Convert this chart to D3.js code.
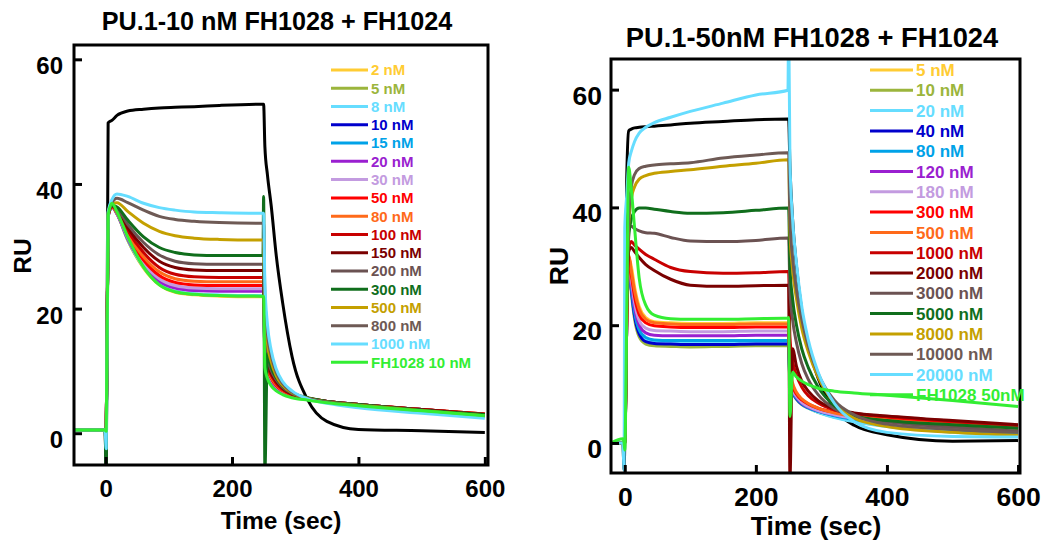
<!DOCTYPE html>
<html>
<head>
<meta charset="utf-8">
<script src="https://cdn.jsdelivr.net/npm/d3@7/dist/d3.min.js"></script>
<style>
html, body { margin: 0; padding: 0; background: #fff; }
svg text { font-family: "Liberation Sans", Arial, sans-serif; font-weight: bold; }
</style>
</head>
<body>
<div id="chart"></div>
<script>
// ---- data ----
var colors = ["#FFCC33", "#9BB53C", "#66DDFF", "#0000CC", "#00A2E8", "#9A1FD0",
              "#C39BE0", "#FF0000", "#FF6A1A", "#C80000", "#7A0000", "#6B5252",
              "#106E1C", "#C4A000", "#6E5A55", "#66DDFF", "#33EE33"];
var blackColor = "#000000";

// left panel: PU.1-10 nM
var leftTitle = "PU.1-10 nM FH1028 + FH1024";
var leftLabels = ["2 nM", "5 nM", "8 nM", "10 nM", "15 nM", "20 nM", "30 nM", "50 nM",
                  "80 nM", "100 nM", "150 nM", "200 nM", "300 nM", "500 nM", "800 nM",
                  "1000 nM", "FH1028 10 nM"];
var leftTime = [-50, -1, 1, 4, 10, 18, 35, 60, 85, 110, 140, 180, 249,
                250, 252, 256, 262, 270, 280, 295, 320, 350, 400, 500, 600];
var left2    = [0.5, 0.5, 0.3, 34.8, 36.4, 35.2, 31.0, 26.5, 23.8, 22.6, 22.2, 22.0, 21.9, 21.9, 12.0, 9.6, 8.2, 7.2, 6.5, 5.9, 5.4, 5.0, 4.5, 3.7, 2.9];
var left5    = [0.5, 0.5, 0.3, 34.8, 36.4, 35.2, 31.0, 26.6, 23.9, 22.7, 22.3, 22.1, 22.0, 22.0, 12.1, 9.7, 8.3, 7.3, 6.6, 6.0, 5.5, 5.1, 4.6, 3.8, 3.0];
var left8    = [0.5, 0.5, -2.5, 34.8, 36.4, 35.3, 31.1, 26.7, 24.0, 22.8, 22.4, 22.2, 22.1, 22.1, 12.2, 9.8, 8.3, 7.3, 6.6, 6.0, 5.5, 5.0, 4.5, 3.6, 2.8];
var left10   = [0.5, 0.5, 0.3, 34.8, 36.3, 35.3, 31.3, 27.2, 24.6, 23.5, 23.1, 23.0, 23.0, 23.0, 12.6, 10.0, 8.5, 7.4, 6.7, 6.0, 5.5, 5.1, 4.6, 3.8, 3.0];
var left15   = [0.5, 0.5, 0.3, 34.8, 36.3, 35.3, 31.3, 27.1, 24.5, 23.4, 23.0, 22.9, 22.9, 22.9, 12.5, 9.9, 8.4, 7.4, 6.7, 6.0, 5.5, 5.1, 4.6, 3.8, 3.0];
var left20   = [0.5, 0.5, 0.3, 34.8, 36.3, 35.2, 31.2, 27.0, 24.4, 23.3, 22.9, 22.8, 22.8, 22.8, 12.5, 9.9, 8.4, 7.4, 6.6, 6.0, 5.5, 5.1, 4.6, 3.8, 3.0];
var left30   = [0.5, 0.5, 0.3, 34.8, 36.3, 35.3, 31.4, 27.3, 24.8, 23.7, 23.3, 23.2, 23.2, 23.2, 12.8, 10.1, 8.6, 7.5, 6.7, 6.1, 5.5, 5.1, 4.6, 3.8, 3.0];
var left50   = [0.5, 0.5, 0.3, 34.9, 36.3, 35.4, 31.7, 27.8, 25.3, 24.2, 23.8, 23.7, 23.7, 23.7, 13.2, 10.4, 8.8, 7.6, 6.8, 6.1, 5.5, 5.1, 4.6, 3.8, 3.1];
var left80   = [0.5, 0.5, 0.3, 34.9, 36.3, 35.5, 32.0, 28.3, 25.9, 24.8, 24.4, 24.3, 24.3, 24.3, 13.6, 10.7, 9.0, 7.8, 6.9, 6.2, 5.6, 5.1, 4.6, 3.8, 3.1];
var left100  = [0.5, 0.5, 0.3, 35.0, 36.4, 35.7, 32.5, 29.0, 26.6, 25.5, 25.1, 25.0, 25.0, 25.0, 14.2, 11.0, 9.3, 8.0, 7.0, 6.2, 5.6, 5.1, 4.6, 3.8, 3.1];
var left150  = [0.5, 0.5, 0.3, 35.0, 36.5, 35.9, 33.0, 29.8, 27.6, 26.6, 26.2, 26.1, 26.1, 26.1, 15.0, 11.6, 9.7, 8.3, 7.2, 6.3, 5.6, 5.1, 4.6, 3.8, 3.0];
var left200  = [0.5, 0.5, 0.3, 35.1, 36.6, 36.1, 33.5, 30.6, 28.6, 27.6, 27.2, 27.1, 27.1, 27.1, 15.8, 12.2, 10.1, 8.6, 7.4, 6.4, 5.6, 5.1, 4.6, 3.7, 3.0];
var left300  = [0.5, 0.5, -6.0, 35.2, 36.6, 36.3, 34.2, 31.5, 29.8, 29.0, 28.6, 28.5, 28.5, 38.0, -6.0, 12.8, 10.6, 8.9, 7.6, 6.5, 5.7, 5.1, 4.6, 3.7, 3.0];
var left500  = [0.5, 0.5, 0.3, 35.3, 36.8, 37.0, 35.6, 33.7, 32.4, 31.7, 31.3, 31.1, 31.0, 31.0, 20.0, 14.5, 11.5, 9.2, 7.7, 6.5, 5.6, 5.0, 4.5, 3.6, 2.8];
var left800  = [0.5, 0.5, 0.3, 35.4, 37.0, 37.7, 37.0, 35.8, 34.8, 34.3, 34.0, 33.8, 33.7, 33.7, 22.0, 16.0, 12.5, 9.8, 8.0, 6.6, 5.6, 5.0, 4.4, 3.5, 2.7];
var left1000 = [0.5, 0.5, -2.5, 35.5, 37.5, 38.4, 38.0, 36.9, 36.2, 35.8, 35.5, 35.4, 35.3, 35.3, 24.0, 17.5, 13.3, 10.3, 8.3, 6.8, 5.5, 4.8, 4.1, 3.2, 2.4];
var leftFH   = [0.5, 0.5, 0.3, 35.0, 36.9, 35.5, 31.5, 26.7, 23.8, 22.7, 22.3, 22.1, 22.0, 22.0, 10.5, 8.8, 7.6, 6.8, 6.2, 5.7, 5.3, 4.9, 4.4, 3.6, 2.8];
var leftBlack = [0.5, 0.5, -6.0, 49.8, 50.2, 51.0, 51.7, 52.0, 52.2, 52.3, 52.4, 52.6, 52.8, 52.8, 46.0, 41.5, 36.5, 28.5, 21.0, 12.3, 5.3, 1.9, 0.6, 0.4, 0.1];
var leftCurves = [left2, left5, left8, left10, left15, left20, left30, left50, left80,
                  left100, left150, left200, left300, left500, left800, left1000, leftFH];

// right panel: PU.1-50nM
var rightTitle = "PU.1-50nM FH1028 + FH1024";
var rightLabels = ["5 nM", "10 nM", "20 nM", "40 nM", "80 nM", "120 nM", "180 nM", "300 nM",
                   "500 nM", "1000 nM", "2000 nM", "3000 nM", "5000 nM", "8000 nM",
                   "10000 nM", "20000 nM", "FH1028 50nM"];
var rightTime = [-21, -3, -1, 0, 3, 6, 10, 15, 22, 32, 45, 70, 100, 150, 200, 249,
                 250, 252, 256, 262, 270, 280, 295, 320, 350, 400, 500, 600];
var right5     = [0, 0, 0, 0, 20, 31.5, 30.0, 26.5, 23.2, 21.3, 20.6, 20.4, 20.3, 20.3, 20.4, 20.4, 20.4, 10.8, 9.2, 8.0, 7.0, 6.2, 5.4, 4.5, 3.7, 2.9, 1.9, 1.3];
var right10    = [0, 0, 0, 0, 20, 30.5, 25.5, 21.0, 18.0, 16.8, 16.5, 16.4, 16.3, 16.4, 16.5, 16.5, 16.5, 9.8, 8.5, 7.4, 6.5, 5.9, 5.2, 4.4, 3.7, 3.0, 2.1, 1.5];
var right20    = [0, 0, 0, 0, 20, 30.5, 26.0, 21.7, 18.8, 17.6, 17.3, 17.2, 17.1, 17.1, 17.2, 17.2, 17.2, 10.0, 8.6, 7.5, 6.6, 5.9, 5.2, 4.3, 3.6, 2.8, 1.8, 1.2];
var right40    = [0, 0, 0, 0, 20, 30.5, 26.0, 21.5, 18.5, 17.2, 16.9, 16.8, 16.7, 16.7, 16.8, 16.8, 16.8, 10.0, 8.6, 7.5, 6.6, 6.0, 5.4, 4.7, 4.1, 3.4, 2.5, 1.8];
var right80    = [0, 0, 0, 0, 20, 30.8, 26.5, 22.2, 19.2, 17.9, 17.5, 17.4, 17.4, 17.4, 17.4, 17.4, 17.4, 10.2, 8.7, 7.6, 6.7, 6.0, 5.4, 4.6, 4.0, 3.3, 2.3, 1.6];
var right120   = [0, 0, 0, 0, 20, 31.0, 27.2, 23.0, 20.0, 18.7, 18.3, 18.2, 18.2, 18.2, 18.3, 18.3, 18.3, 10.5, 8.9, 7.8, 6.8, 6.1, 5.5, 4.8, 4.2, 3.5, 2.6, 2.0];
var right180   = [0, 0, 0, 0, 20, 31.2, 27.8, 23.8, 20.8, 19.5, 19.1, 19.0, 18.9, 18.9, 19.0, 19.0, 19.0, 10.6, 9.0, 7.9, 6.9, 6.2, 5.5, 4.8, 4.2, 3.5, 2.6, 2.0];
var right300   = [0, 0, 0, 0, 20, 31.5, 28.5, 24.8, 21.8, 20.4, 19.9, 19.7, 19.6, 19.6, 19.7, 19.7, 19.7, 11.5, 9.6, 8.3, 7.3, 6.6, 5.9, 5.2, 4.7, 4.2, 3.4, 2.8];
var right500   = [0, 0, 0, 0, 20, 31.8, 29.2, 25.8, 22.7, 21.0, 20.4, 20.2, 20.1, 20.1, 20.2, 20.2, 20.2, 12.5, 10.2, 8.6, 7.5, 6.7, 5.9, 5.1, 4.5, 3.9, 3.1, 2.5];
var right1000  = [0, 0, 0, 0, 22, 33.0, 34.2, 33.6, 32.9, 32.0, 31.2, 29.8, 29.1, 28.8, 28.9, 29.1, 29.1, 18.0, 14.0, 11.5, 9.5, 8.0, 6.8, 5.6, 5.0, 4.5, 3.7, 3.0];
var right2000  = [0, 0, 0, 0, 22, 32.5, 33.2, 32.5, 31.5, 30.3, 29.3, 27.8, 26.8, 26.6, 26.7, 26.8, 26.8, -6.0, 16.0, 13.0, 10.5, 8.8, 7.2, 5.8, 5.1, 4.6, 3.8, 3.1];
var right3000  = [0, 0, 0, 0, 25, 36.5, 36.8, 36.4, 36.0, 35.7, 35.6, 34.9, 34.3, 34.2, 34.4, 34.8, 34.8, 26.0, 21.0, 17.0, 13.5, 10.8, 8.2, 5.8, 4.5, 3.6, 2.7, 2.0];
var right5000  = [0, 0, 0, 0, 25, 35.0, 38.0, 39.3, 39.9, 39.9, 39.7, 39.3, 39.0, 39.1, 39.5, 39.9, 39.9, 30.0, 24.5, 20.0, 16.0, 12.8, 9.5, 6.3, 4.6, 3.8, 3.1, 2.5];
var right8000  = [0, 0, 0, 0, 25, 37.0, 41.5, 43.5, 44.8, 45.4, 45.8, 46.1, 46.4, 47.0, 47.5, 48.1, 48.1, 36.0, 29.5, 24.5, 19.5, 15.5, 11.2, 6.8, 4.2, 2.8, 1.8, 1.3];
var right10000 = [0, 0, 0, 0, 25, 38.0, 43.5, 45.6, 46.6, 47.0, 47.2, 47.4, 47.6, 48.4, 48.9, 49.3, 49.3, 38.0, 31.5, 26.0, 21.0, 16.5, 11.8, 7.2, 4.8, 3.2, 2.3, 1.8];
var right20000 = [0, 0, -4.6, 36.5, 42.0, 47.5, 49.5, 51.2, 52.6, 53.6, 54.4, 55.3, 56.3, 57.7, 59.1, 59.9, 72.0, 48.0, 38.0, 30.5, 23.2, 17.5, 12.0, 6.7, 3.6, 1.8, 1.1, 1.0];
var rightFH    = [0, 0.7, 0, -1.2, 22, 46.8, 43.0, 36.5, 28.0, 23.4, 21.7, 21.1, 21.0, 21.0, 21.1, 21.2, 21.3, 4.5, 12.0, 11.2, 10.5, 9.9, 9.3, 8.8, 8.5, 8.1, 7.2, 6.2];
var rightBlack = [0, 0, -4.6, 0, 45, 53.0, 53.3, 53.5, 53.6, 53.7, 53.8, 54.0, 54.3, 54.6, 54.9, 55.0, 55.0, 47.0, 38.0, 30.0, 22.5, 16.5, 11.0, 5.8, 3.0, 1.4, 0.3, 0.4];
var rightCurves = [right5, right10, right20, right40, right80, right120, right180, right300,
                   right500, right1000, right2000, right3000, right5000, right8000,
                   right10000, right20000, rightFH];

var xTicks = [0, 200, 400, 600];
var yTicks = [0, 20, 40, 60];

// ---- drawing ----
var svg = d3.select("#chart").append("svg:svg")
    .attr("width", 1046)
    .attr("height", 541);

var drawPanel = function(p) {
    var x = d3.scaleLinear().domain(p.xDomain).range([p.left, p.right]);
    var y = d3.scaleLinear().domain(p.yDomain).range([p.bottom, p.top]);
    var g = svg.append("g");

    g.append("clipPath").attr("id", p.id + "-clip")
        .append("rect")
        .attr("x", p.left).attr("y", p.top)
        .attr("width", p.right - p.left).attr("height", p.bottom - p.top);

    var line = d3.line()
        .x(function(d, i) { return x(p.time[i]); })
        .y(function(d) { return y(d); })
        .curve(d3.curveMonotoneX);

    var plot = g.append("g").attr("clip-path", "url(#" + p.id + "-clip)");

    // buffer / reference curve underneath
    plot.append("path")
        .attr("d", line(p.black))
        .attr("fill", "none")
        .attr("stroke", blackColor)
        .attr("stroke-width", 3)
        .attr("stroke-linejoin", "round");

    plot.selectAll("path.series")
        .data(p.curves)
        .enter().append("path")
        .attr("class", "series")
        .attr("d", function(d) { return line(d); })
        .attr("fill", "none")
        .attr("stroke", function(d, i) { return colors[i]; })
        .attr("stroke-width", 3)
        .attr("stroke-linejoin", "round");

    // axes with inward ticks
    var xAxis = g.append("g")
        .attr("transform", "translate(0," + p.bottom + ")")
        .call(d3.axisBottom(x).tickValues(xTicks).tickSize(-8).tickPadding(p.xPad).tickSizeOuter(0));
    var yAxis = g.append("g")
        .attr("transform", "translate(" + p.left + ",0)")
        .call(d3.axisLeft(y).tickValues(yTicks).tickSize(-8).tickPadding(p.yPad).tickSizeOuter(0));

    [xAxis, yAxis].forEach(function(a) {
        a.select(".domain").remove();
        a.selectAll("line").attr("stroke", "#000").attr("stroke-width", 3);
        a.selectAll("text")
            .attr("fill", "#000")
            .style("font-size", p.tickFont + "px")
            .style("font-family", '"Liberation Sans", Arial, sans-serif')
            .style("font-weight", "bold");
    });
    yAxis.selectAll("text").attr("dy", (0.36 * p.tickFont + p.yShift) + "px");

    // frame
    g.append("rect")
        .attr("x", p.left).attr("y", p.top)
        .attr("width", p.right - p.left).attr("height", p.bottom - p.top)
        .attr("fill", "none")
        .attr("stroke", "#000")
        .attr("stroke-width", 3);

    // titles and axis labels
    g.append("text")
        .attr("x", p.titleX).attr("y", p.titleY)
        .attr("text-anchor", "middle")
        .style("font-size", p.titleFont + "px")
        .text(p.title);

    g.append("text")
        .attr("x", p.xLabelX).attr("y", p.xLabelY)
        .attr("text-anchor", "middle")
        .style("font-size", p.labelFont + "px")
        .text("Time (sec)");

    g.append("text")
        .attr("transform", "translate(" + p.yLabelX + "," + p.yLabelY + ") rotate(-90)")
        .attr("text-anchor", "middle")
        .attr("dy", "0.36em")
        .style("font-size", p.labelFont + "px")
        .text("RU");

    // legend
    var legend = g.selectAll("g.legend")
        .data(p.labels)
        .enter().append("g")
        .attr("class", "legend")
        .attr("transform", function(d, i) { return "translate(0," + (p.legendY + i * p.legendStep) + ")"; });

    legend.append("line")
        .attr("x1", p.legendX1).attr("x2", p.legendX2)
        .attr("stroke", function(d, i) { return colors[i]; })
        .attr("stroke-width", 3);

    legend.append("text")
        .attr("x", p.legendX2 + 3)
        .attr("dy", "0.36em")
        .attr("fill", function(d, i) { return colors[i]; })
        .style("font-size", p.legendFont + "px")
        .text(function(d) { return d; });
};

drawPanel({
    id: "left", title: leftTitle, labels: leftLabels,
    time: leftTime, curves: leftCurves, black: leftBlack,
    xDomain: [-50, 605], yDomain: [-5.1, 62.3],
    left: 74, right: 488, top: 45, bottom: 465,
    tickFont: 24, xPad: 15, yPad: 11, yShift: 6,
    titleFont: 25.2, titleX: 277, titleY: 30,
    labelFont: 24.5, xLabelX: 281, xLabelY: 529, yLabelX: 22, yLabelY: 256,
    legendX1: 331, legendX2: 368, legendY: 70, legendStep: 18.27, legendFont: 15
});

drawPanel({
    id: "right", title: rightTitle, labels: rightLabels,
    time: rightTime, curves: rightCurves, black: rightBlack,
    xDomain: [-21, 603], yDomain: [-5.1, 65.2],
    left: 611, right: 1020, top: 59, bottom: 473,
    tickFont: 26.5, xPad: 14, yPad: 9, yShift: 5,
    titleFont: 27.3, titleX: 812, titleY: 47,
    labelFont: 26.5, xLabelX: 816, xLabelY: 534.5, yLabelX: 558, yLabelY: 266,
    legendX1: 870, legendX2: 913, legendY: 70, legendStep: 20.3, legendFont: 17
});
</script>
</body>
</html>
